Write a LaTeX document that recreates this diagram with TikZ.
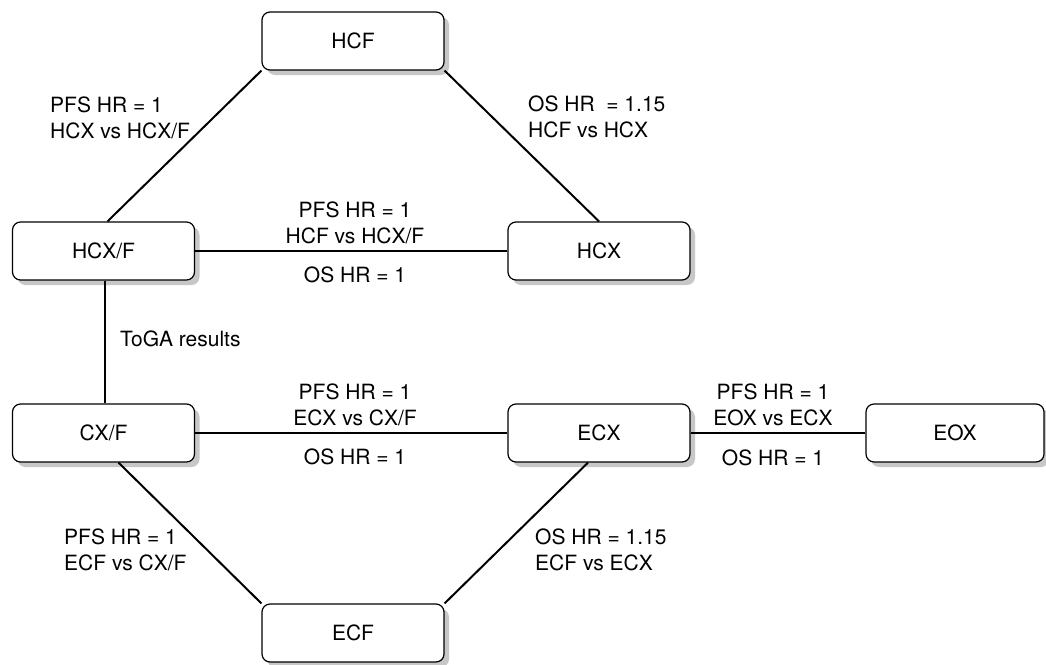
\documentclass[tikz,border=0pt]{standalone}
\usepackage{fontspec}
\setmainfont{TeX Gyre Heros}
\usetikzlibrary{shadows}
\begin{document}
\begin{tikzpicture}[x=1pt,y=-1pt,
  box/.style={draw=black, line width=1.2pt, fill=white, rounded corners=8pt,
    minimum width=182pt, minimum height=58pt, inner sep=0pt,
    font=\fontsize{21}{25.5}\selectfont,
    drop shadow={shadow xshift=5pt, shadow yshift=-5pt, fill=black!22, opacity=1}},
  edge/.style={draw=black, line width=2pt},
  lbl/.style={font=\fontsize{21}{25.5}\selectfont, inner sep=0pt},
  lblL/.style={lbl, align=left, anchor=west},
  lblC/.style={lbl, align=center}]
\useasboundingbox (0,0) rectangle (1046,664);
\fill[white] (0,0) rectangle (1046,664);
% nodes
\node[box] (HCF)  at (353,41)  {HCF};
\node[box] (HCXF) at (103.5,251) {HCX/F};
\node[box] (HCX)  at (599,251) {HCX};
\node[box] (CXF)  at (103.5,433) {CX/F};
\node[box] (ECX)  at (599,433) {ECX};
\node[box, minimum width=178pt] (EOX) at (955,433) {EOX};
\node[box] (ECF)  at (353,633) {ECF};
% connectors
\draw[edge] ([xshift=4pt]HCXF.north) -- (HCF.south west);
\draw[edge] (HCF.south east) -- (HCX.north);
\draw[edge] (HCXF.east) -- (HCX.west);
\draw[edge] ([xshift=1.5pt]HCXF.south) -- ([xshift=1.5pt]CXF.north);
\draw[edge] (CXF.east) -- (ECX.west);
\draw[edge] (ECX.east) -- (EOX.west);
\draw[edge] ([xshift=15pt]CXF.south) -- (ECF.north west);
\draw[edge] ([xshift=-11pt]ECX.south) -- (ECF.north east);
% labels
\node[lblL] (l1) at (50,118) {PFS HR = 1\\HCX vs HCX/F};
\node[lblL] (l2) at (528,117) {OS HR\ \ = 1.15\\HCF vs HCX};
\node[lblC] (l3) at (355,223) {PFS HR = 1\\HCF vs HCX/F};
\node[lblC] (l4) at (355,275) {OS HR = 1};
\node[lblL] (l5) at (120,339) {ToGA results};
\node[lblC] (l6) at (355,405) {PFS HR = 1\\ECX vs CX/F};
\node[lblC] (l7) at (355,457) {OS HR = 1};
\node[lblC] (l8) at (773,405) {PFS HR = 1\\EOX vs ECX};
\node[lblC] (l9) at (773,458) {OS HR = 1};
\node[lblL] (l10) at (64,550) {PFS HR = 1\\ECF vs CX/F};
\node[lblL] (l11) at (535,550) {OS HR = 1.15\\ECF vs ECX};
\end{tikzpicture}
\end{document}
